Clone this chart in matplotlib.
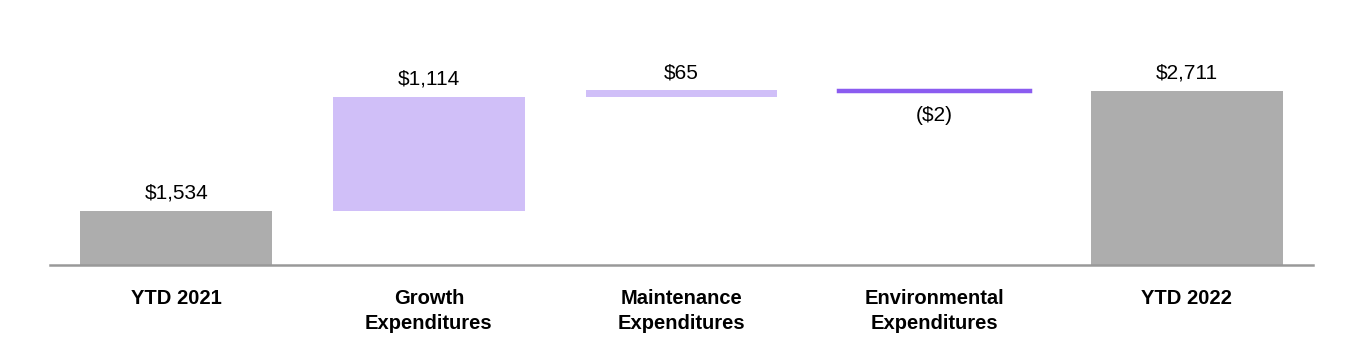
import matplotlib.pyplot as plt
import numpy as np

plt.rcParams['font.family'] = ['Liberation Sans', 'DejaVu Sans']

categories = ['YTD 2021', 'Growth\nExpenditures', 'Maintenance\nExpenditures',
              'Environmental\nExpenditures', 'YTD 2022']
changes = [1534, 1114, 65, -2, 2711]
labels = ['$1,534', '$1,114', '$65', '($2)', '$2,711']
is_total = [True, False, False, False, True]
colors = ['#adadad', '#d0bff8', '#d0bff8', '#8b5cf0', '#adadad']

base_y = 1000
bottoms = []
heights = []
running = 0
for val, tot in zip(changes, is_total):
    if tot:
        bottoms.append(base_y)
        heights.append(val - base_y)
        running = val
    else:
        bottoms.append(running)
        heights.append(val)
        running += val

fig = plt.figure(figsize=(13.64, 3.5), dpi=100)
ax = fig.add_axes([50 / 1364, 1 - 265 / 350, 1263 / 1364, 265 / 350])

x = np.arange(len(categories))
for i in x:
    lw = 2.5 if abs(heights[i]) < 10 else 0
    ax.bar(i, heights[i], bottom=bottoms[i], width=0.76, color=colors[i],
           edgecolor=colors[i], linewidth=lw)
    top = bottoms[i] + max(heights[i], 0)
    bot = bottoms[i] + min(heights[i], 0)
    if changes[i] < 0 and not is_total[i]:
        ax.annotate(labels[i], (i, bot), xytext=(0, -11), textcoords='offset points',
                    ha='center', va='top', fontsize=15)
    else:
        ax.annotate(labels[i], (i, top), xytext=(0, 6), textcoords='offset points',
                    ha='center', va='bottom', fontsize=15)

ax.set_xlim(-0.5, len(categories) - 0.5)
ax.set_ylim(base_y, 3600)
ax.set_yticks([])
ax.set_xticks(x)
ax.set_xticklabels(categories, fontsize=14.5, fontweight='bold', linespacing=1.45)
ax.tick_params(axis='x', length=0, pad=17)
for s in ['top', 'right', 'left']:
    ax.spines[s].set_visible(False)
ax.spines['bottom'].set_color('#999999')
ax.spines['bottom'].set_linewidth(1.8)

fig.savefig('out.png', dpi=100)
